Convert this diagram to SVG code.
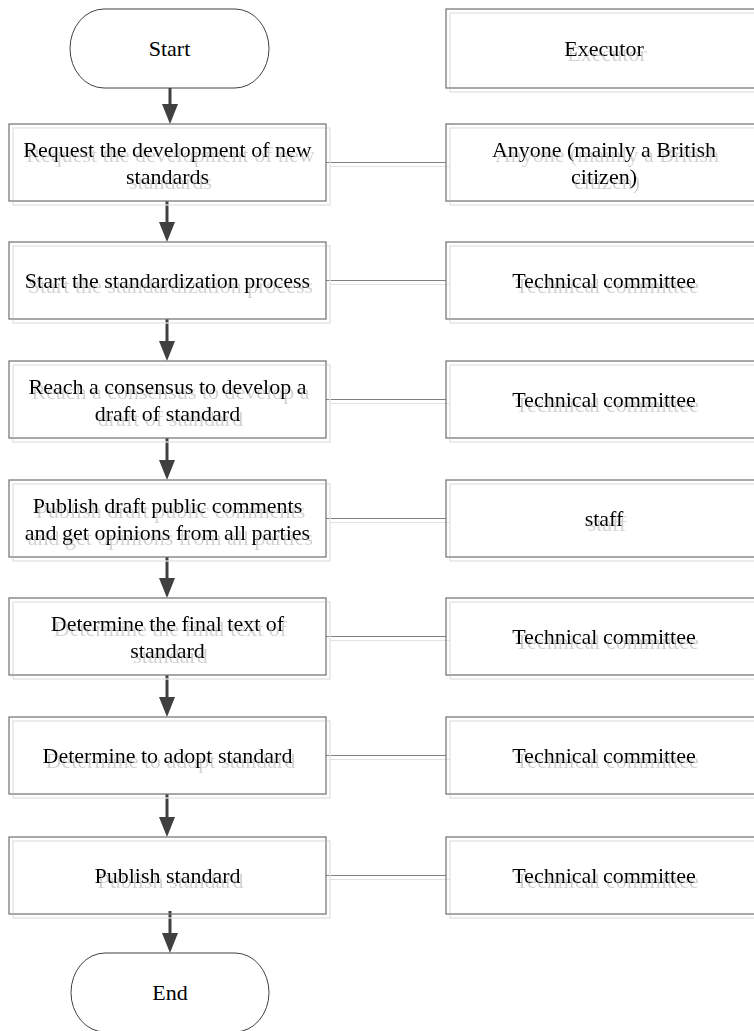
<svg xmlns="http://www.w3.org/2000/svg" width="754" height="1031" viewBox="0 0 754 1031">
<style>
.box{fill:none;stroke:#7a7a7a;stroke-width:1.3}
.term{fill:none;stroke:#404040;stroke-width:1}
.conn{stroke:#808080;stroke-width:1.2;fill:none}
.arr{stroke:#404040;stroke-width:3;fill:none}
text{font-family:"Liberation Serif","Times New Roman",serif;font-size:22px;fill:#000;text-anchor:middle}
.ts{filter:url(#tsh)}
.bs{filter:url(#bsh)}
</style>
<defs>
<filter id="bsh" filterUnits="userSpaceOnUse" x="0" y="0" width="800" height="1100">
<feOffset in="SourceAlpha" dx="4" dy="4" result="o"/>
<feFlood flood-color="#e2e2e2"/>
<feComposite in2="o" operator="in"/>
<feMerge><feMergeNode/><feMergeNode in="SourceGraphic"/></feMerge>
</filter>
<filter id="tsh" filterUnits="userSpaceOnUse" x="0" y="0" width="800" height="1100">
<feOffset in="SourceAlpha" dx="3" dy="5" result="o"/>
<feFlood flood-color="#d2d2d2"/>
<feComposite in2="o" operator="in"/>
<feMerge><feMergeNode/><feMergeNode in="SourceGraphic"/></feMerge>
</filter>
<marker id="ah" markerUnits="userSpaceOnUse" viewBox="0 0 20 16" markerWidth="20" markerHeight="16" refX="1" refY="8" orient="auto">
<path d="M0,0 L20,8 L0,16 z" fill="#404040"/>
</marker>
</defs>
<g id="connectors">
<g class="bs">
<line class="conn" x1="326" y1="162.5" x2="446" y2="162.5"/>
<line class="conn" x1="326" y1="280.5" x2="446" y2="280.5"/>
<line class="conn" x1="326" y1="399.5" x2="446" y2="399.5"/>
<line class="conn" x1="326" y1="518.5" x2="446" y2="518.5"/>
<line class="conn" x1="326" y1="636.5" x2="446" y2="636.5"/>
<line class="conn" x1="326" y1="755.5" x2="446" y2="755.5"/>
<line class="conn" x1="326" y1="875.5" x2="446" y2="875.5"/>
</g>
<line class="arr" x1="170" y1="88" x2="170" y2="105" marker-end="url(#ah)"/>
<line class="arr" x1="167" y1="201" x2="167" y2="223" marker-end="url(#ah)"/>
<line class="arr" x1="167" y1="319" x2="167" y2="342" marker-end="url(#ah)"/>
<line class="arr" x1="167" y1="438" x2="167" y2="461" marker-end="url(#ah)"/>
<line class="arr" x1="167" y1="557" x2="167" y2="579" marker-end="url(#ah)"/>
<line class="arr" x1="167" y1="675" x2="167" y2="698" marker-end="url(#ah)"/>
<line class="arr" x1="167" y1="794" x2="167" y2="818" marker-end="url(#ah)"/>
<line class="arr" x1="170" y1="911" x2="170" y2="934" marker-end="url(#ah)"/>
</g>
<g id="start">
<rect class="term" x="70" y="9" width="199" height="79" rx="34" ry="39.5"/>
<text x="169.5" y="56">Start</text>
</g>
<g id="executor">
<rect class="box bs" x="446" y="9" width="316" height="79"/>
<text class="ts" x="604" y="56">Executor</text>
</g>
<g id="step1">
<rect class="box bs" x="9" y="124" width="317" height="77"/>
<text class="ts" x="167.5" y="156.5">Request the development of new</text>
<text class="ts" x="167.5" y="183.5">standards</text>
</g>
<g id="actor1">
<rect class="box bs" x="446" y="124" width="316" height="77"/>
<text class="ts" x="604" y="156.5">Anyone (mainly a British</text>
<text class="ts" x="604" y="183.5">citizen)</text>
</g>
<g id="step2">
<rect class="box bs" x="9" y="242" width="317" height="77"/>
<text class="ts" x="167.5" y="288">Start the standardization process</text>
</g>
<g id="actor2">
<rect class="box bs" x="446" y="242" width="316" height="77"/>
<text class="ts" x="604" y="288">Technical committee</text>
</g>
<g id="step3">
<rect class="box bs" x="9" y="361" width="317" height="77"/>
<text class="ts" x="167.5" y="393.5">Reach a consensus to develop a</text>
<text class="ts" x="167.5" y="420.5">draft of standard</text>
</g>
<g id="actor3">
<rect class="box bs" x="446" y="361" width="316" height="77"/>
<text class="ts" x="604" y="407">Technical committee</text>
</g>
<g id="step4">
<rect class="box bs" x="9" y="480" width="317" height="77"/>
<text class="ts" x="167.5" y="512.5">Publish draft public comments</text>
<text class="ts" x="167.5" y="539.5">and get opinions from all parties</text>
</g>
<g id="actor4">
<rect class="box bs" x="446" y="480" width="316" height="77"/>
<text class="ts" x="604" y="526">staff</text>
</g>
<g id="step5">
<rect class="box bs" x="9" y="598" width="317" height="77"/>
<text class="ts" x="167.5" y="630.5">Determine the final text of</text>
<text class="ts" x="167.5" y="657.5">standard</text>
</g>
<g id="actor5">
<rect class="box bs" x="446" y="598" width="316" height="77"/>
<text class="ts" x="604" y="644">Technical committee</text>
</g>
<g id="step6">
<rect class="box bs" x="9" y="717" width="317" height="77"/>
<text class="ts" x="167.5" y="763">Determine to adopt standard</text>
</g>
<g id="actor6">
<rect class="box bs" x="446" y="717" width="316" height="77"/>
<text class="ts" x="604" y="763">Technical committee</text>
</g>
<g id="step7">
<rect class="box bs" x="9" y="837" width="317" height="77"/>
<text class="ts" x="167.5" y="883">Publish standard</text>
</g>
<g id="actor7">
<rect class="box bs" x="446" y="837" width="316" height="77"/>
<text class="ts" x="604" y="883">Technical committee</text>
</g>
<g id="end">
<rect class="term" x="71" y="953" width="198" height="79" rx="34" ry="39.5"/>
<text x="170" y="1000">End</text>
</g>
</svg>
